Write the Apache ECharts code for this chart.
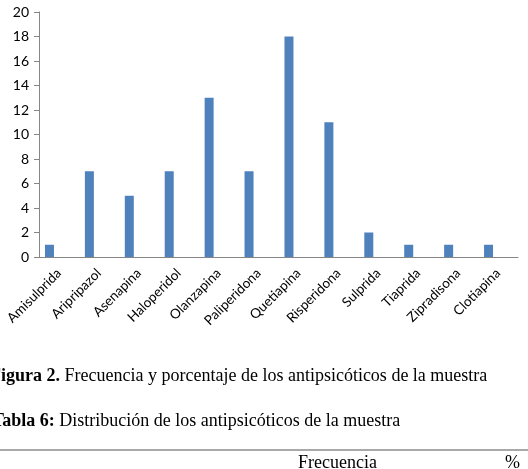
<!DOCTYPE html>
<html>
<head>
<meta charset="utf-8">
<script src="https://cdn.jsdelivr.net/npm/echarts@6/dist/echarts.min.js"></script>
<style>
  html, body { margin: 0; padding: 0; background: #fff; }
  #chartDiv { width: 528px; height: 469px; }
</style>
</head>
<body>
<div id="chartDiv"></div>
<script>
// datos
var farmacos = ['Amisulprida', 'Aripripazol', 'Asenapina', 'Haloperidol', 'Olanzapina', 'Paliperidona',
    'Quetiapina', 'Risperidona', 'Sulprida', 'Tiaprida', 'Zipradisona', 'Clotiapina'];
var frecuencia = [1, 7, 5, 7, 13, 7, 18, 11, 2, 1, 1, 1];
// segunda serie vacia (en el original desplaza las barras a la izquierda)
var hueco = [null, null, null, null, null, null, null, null, null, null, null, null];
var yTicks = [0, 2, 4, 6, 8, 10, 12, 14, 16, 18, 20];

var Chart1 = echarts.init(document.getElementById('chartDiv'));

var option = {
    animation: false,
    grid: {left: 39, right: 10, top: 12, bottom: 212},
    xAxis: {
        type: 'category',
        data: farmacos,
        axisLine: {lineStyle: {color: '#868686'}},
        axisTick: {length: 4, lineStyle: {color: '#868686'}},
        axisLabel: {rotate: 45, margin: 14, color: '#000', fontFamily: 'Lato', fontSize: 13.5}
    },
    yAxis: {
        type: 'value',
        min: yTicks[0],
        max: yTicks[yTicks.length - 1],
        interval: 2,
        splitLine: {show: false},
        axisLine: {show: true, lineStyle: {color: '#868686'}},
        axisTick: {show: true, length: 5, lineStyle: {color: '#868686'}},
        axisLabel: {margin: 10, color: '#000', fontFamily: 'Lato', fontSize: 14}
    },
    series: [{
        name: 'Frecuencia',
        type: 'bar',
        data: frecuencia,
        barWidth: 9,
        barGap: '111%',
        itemStyle: {color: '#4F81BD'}
    }, {
        name: 'hueco',
        type: 'bar',
        data: hueco,
        barWidth: 9
    }],
    graphic: [
        {type: 'text', left: -10, top: 367, style: {text: '{b|Figura 2.} Frecuencia y porcentaje de los antipsicóticos de la muestra',
            rich: {b: {fontWeight: 'bold', fontFamily: 'Liberation Serif', fontSize: 18, fill: '#000'}},
            fontFamily: 'Liberation Serif', fontSize: 18, fill: '#000'}},
        {type: 'text', left: -8, top: 412, style: {text: '{b|Tabla 6:} Distribución de los antipsicóticos de la muestra',
            rich: {b: {fontWeight: 'bold', fontFamily: 'Liberation Serif', fontSize: 18, fill: '#000'}},
            fontFamily: 'Liberation Serif', fontSize: 18, fill: '#000'}},
        {type: 'line', shape: {x1: 0, y1: 450, x2: 528, y2: 450}, style: {stroke: '#8c8c8c', lineWidth: 1.5}},
        {type: 'text', left: 298, top: 454, style: {text: 'Frecuencia', fontFamily: 'Liberation Serif', fontSize: 18, fill: '#000'}},
        {type: 'text', left: 505, top: 454, style: {text: '%', fontFamily: 'Liberation Serif', fontSize: 18, fill: '#000'}}
    ]
};

Chart1.setOption(option);
</script>
</body>
</html>
